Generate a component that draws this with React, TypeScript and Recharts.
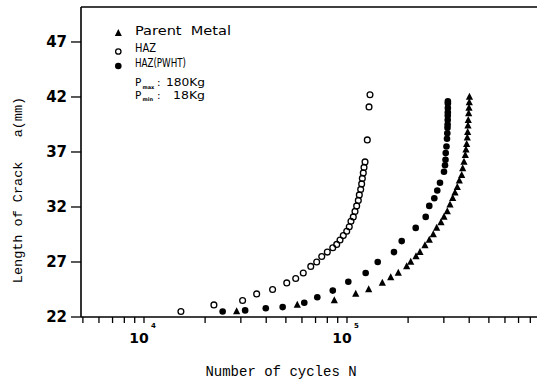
import React from 'react';
import { ScatterChart, Scatter, XAxis, YAxis, ReferenceLine } from 'recharts';

// Fatigue crack growth: crack length a (mm) against number of cycles N
const cycleTicks = [
  5000, 6000, 7000, 8000, 9000,
  10000, 20000, 30000, 40000, 50000, 60000, 70000, 80000, 90000,
  100000, 200000, 300000, 400000, 500000, 600000, 700000, 800000,
];
const lengthTicks = [22, 27, 32, 37, 42, 47];

const parentCycles = [
  28600, 56900, 86600, 110400, 127900, 149300, 164200, 178900, 196800, 206000,
  218800, 228800, 242200, 254300, 266100, 276600, 290400, 300500, 311900, 321700,
  331700, 340400, 349400, 357500, 367300, 371500, 377000, 382600, 385600, 388700,
  391300, 393100, 394400, 395700, 397500, 398900, 400300, 401100,
];
const parentLength = [
  22.5, 23.1, 23.5, 24.1, 24.5, 25.1, 25.6, 26.0, 26.6, 27.0,
  27.5, 27.9, 28.5, 29.0, 29.5, 30.1, 30.6, 31.1, 31.6, 32.2,
  32.8, 33.3, 33.8, 34.4, 34.9, 35.5, 36.1, 36.7, 37.2, 37.7,
  38.3, 38.8, 39.4, 39.9, 40.5, 41.0, 41.5, 42.0,
];

const hazCycles = [
  15200, 22100, 30600, 35900, 43000, 50500, 55900, 60900, 66300, 70900,
  75100, 80000, 85100, 89000, 92400, 95900, 99700, 102600, 104600, 107400,
  109500, 111600, 113700, 115000, 116800, 118100, 119000, 120300, 121300, 122700,
  125900, 128400, 129800,
];
const hazLength = [
  22.5, 23.1, 23.5, 24.1, 24.5, 25.1, 25.5, 26.0, 26.6, 27.0,
  27.5, 27.9, 28.3, 28.6, 29.0, 29.4, 29.8, 30.2, 30.7, 31.1,
  31.6, 32.1, 32.6, 33.1, 33.6, 34.1, 34.6, 35.1, 35.6, 36.1,
  38.1, 41.1, 42.2,
];

const pwhtCycles = [
  24400, 31500, 39800, 48200, 61600, 71400, 85100, 101500, 123600, 141700,
  170400, 186000, 218000, 244200, 254300, 269200, 278500, 287200, 300500, 304000,
  305700, 306400, 309100, 310900, 312000, 312700, 313100, 313400, 313600, 313800,
  313900, 314000, 314000,
];
const pwhtLength = [
  22.5, 22.6, 22.8, 22.9, 23.3, 23.8, 24.4, 25.2, 26.0, 27.0,
  27.9, 28.9, 30.1, 31.1, 32.1, 32.8, 33.5, 34.2, 35.2, 35.8,
  36.3, 36.9, 37.5, 38.2, 38.7, 39.2, 39.5, 39.9, 40.3, 40.6,
  41.0, 41.4, 41.6,
];

const N_MIN = 4894;
const N_MAX = 863000;
const A_MIN = 22;
const A_MAX = 50.18;

const zip = (n: number[], a: number[]) => n.map((v, i) => ({ n: v, a: a[i] }));
const parentData = zip(parentCycles, parentLength);
const hazData = zip(hazCycles, hazLength);
const pwhtData = zip(pwhtCycles, pwhtLength);

const INK = '#000';
const TICK_FONT = '"DejaVu Sans", sans-serif';
const TITLE_FONT = '"Liberation Mono", monospace';
const LEGEND_FONT = '"DejaVu Sans", sans-serif';

const Triangle = ({ cx, cy }: any) =>
  cx == null || cy == null ? null : (
    <polygon points={`${cx},${cy - 4.2} ${cx - 3.6},${cy + 2.8} ${cx + 3.6},${cy + 2.8}`} fill={INK} />
  );
const OpenCircle = ({ cx, cy }: any) =>
  cx == null || cy == null ? null : (
    <circle cx={cx} cy={cy} r={2.9} fill="none" stroke={INK} strokeWidth={1.3} />
  );
const FilledCircle = ({ cx, cy }: any) =>
  cx == null || cy == null ? null : <circle cx={cx} cy={cy} r={3.3} fill={INK} />;

// x ticks: every decade step gets a mark, powers of ten get a "10^k" label
function CycleTick({ x, y, payload }: any) {
  const v = payload.value as number;
  const lg = Math.log10(v);
  const exp = Math.round(lg);
  const major = Math.abs(lg - exp) < 1e-6;
  return (
    <g>
      <line x1={x} y1={y} x2={x} y2={y + 6} stroke={INK} strokeWidth={1.3} />
      {major && (
        <text x={x - 5} y={y + 26} textAnchor="middle" fontFamily={TICK_FONT} fontWeight="bold" fontSize={14} fill={INK}>
          10
        </text>
      )}
      {major && (
        <text x={x + 7} y={y + 11} textAnchor="start" fontFamily={TICK_FONT} fontWeight="bold" fontSize={7} fill={INK}>
          {exp}
        </text>
      )}
    </g>
  );
}

// y ticks: a short dash left of the axis and a bold label
function LengthTick({ x, y, payload }: any) {
  return (
    <g>
      <line x1={x - 10} y1={y} x2={x} y2={y} stroke={INK} strokeWidth={1.3} />
      <text x={x - 14} y={y} dy="0.36em" textAnchor="end" fontFamily={TICK_FONT} fontWeight="bold" fontSize={15} fill={INK}>
        {payload.value}
      </text>
    </g>
  );
}

function Legend() {
  const t = { fontFamily: LEGEND_FONT, fontSize: 12.5, fill: INK } as const;
  const p = { fontFamily: LEGEND_FONT, fontSize: 10.5, fill: INK } as const;
  const sub = { fontFamily: LEGEND_FONT, fontSize: 5, fill: INK, fontWeight: 'bold' } as const;
  return (
    <g>
      <polygon points="118.3,29 114.8,36 121.8,36" fill={INK} />
      <text x={135} y={35} textLength={96} lengthAdjust="spacingAndGlyphs" style={{ whiteSpace: 'pre' }} {...t}>
        Parent  Metal
      </text>
      <circle cx={118.3} cy={51.5} r={2.7} fill="none" stroke={INK} strokeWidth={1.3} />
      <text x={135} y={52} textLength={21} lengthAdjust="spacingAndGlyphs" {...t}>HAZ</text>
      <circle cx={118.3} cy={66} r={3.3} fill={INK} />
      <text x={135} y={66.5} textLength={51} lengthAdjust="spacingAndGlyphs" {...t}>HAZ(PWHT)</text>

      <text x={135} y={86} {...p}>P</text>
      <text x={142.5} y={88.5} {...sub}>max</text>
      <text x={157} y={86} {...p}>:</text>
      <text x={166} y={86} textLength={39} lengthAdjust="spacingAndGlyphs" {...p}>180Kg</text>

      <text x={135} y={98.5} {...p}>P</text>
      <text x={142.5} y={101} {...sub}>min</text>
      <text x={157} y={98.5} {...p}>:</text>
      <text x={173} y={98.5} textLength={32} lengthAdjust="spacingAndGlyphs" {...p}>18Kg</text>
    </g>
  );
}

export default function App() {
  return (
    <div style={{ position: 'absolute', left: 0, top: 0, width: 538, height: 380, background: '#fff' }}>
      <ScatterChart width={538} height={380} margin={{ top: 7, right: 1, bottom: 0, left: 0 }}>
        <XAxis
          type="number"
          dataKey="n"
          scale="log"
          domain={[N_MIN, N_MAX]}
          allowDataOverflow
          ticks={cycleTicks}
          interval={0}
          height={63}
          axisLine={{ stroke: INK, strokeWidth: 1.6 }}
          tickLine={false}
          tickSize={0}
          tickMargin={0}
          tick={<CycleTick />}
        />
        <YAxis
          type="number"
          dataKey="a"
          domain={[A_MIN, A_MAX]}
          allowDataOverflow
          ticks={lengthTicks}
          interval={0}
          width={81}
          axisLine={{ stroke: INK, strokeWidth: 1.6 }}
          tickLine={false}
          tickSize={0}
          tickMargin={0}
          tick={<LengthTick />}
        />
        <ReferenceLine y={A_MAX} stroke={INK} strokeWidth={1.6} />
        <Scatter name="Parent Metal" data={parentData} shape={<Triangle />} isAnimationActive={false} />
        <Scatter name="HAZ" data={hazData} shape={<OpenCircle />} isAnimationActive={false} />
        <Scatter name="HAZ(PWHT)" data={pwhtData} shape={<FilledCircle />} isAnimationActive={false} />
      </ScatterChart>
      <svg width={538} height={380} style={{ position: 'absolute', left: 0, top: 0, pointerEvents: 'none' }}>
        <Legend />
        <text
          x={22}
          y={190}
          transform="rotate(-90 22 190)"
          textAnchor="middle"
          fontFamily={TITLE_FONT}
          fontSize={13.5}
          fill={INK}
          style={{ whiteSpace: 'pre' }}
        >
          Length of Crack   a(mm)
        </text>
        <text x={281} y={376} textAnchor="middle" fontFamily={TITLE_FONT} fontSize={14} fill={INK}>
          Number of cycles N
        </text>
      </svg>
    </div>
  );
}
